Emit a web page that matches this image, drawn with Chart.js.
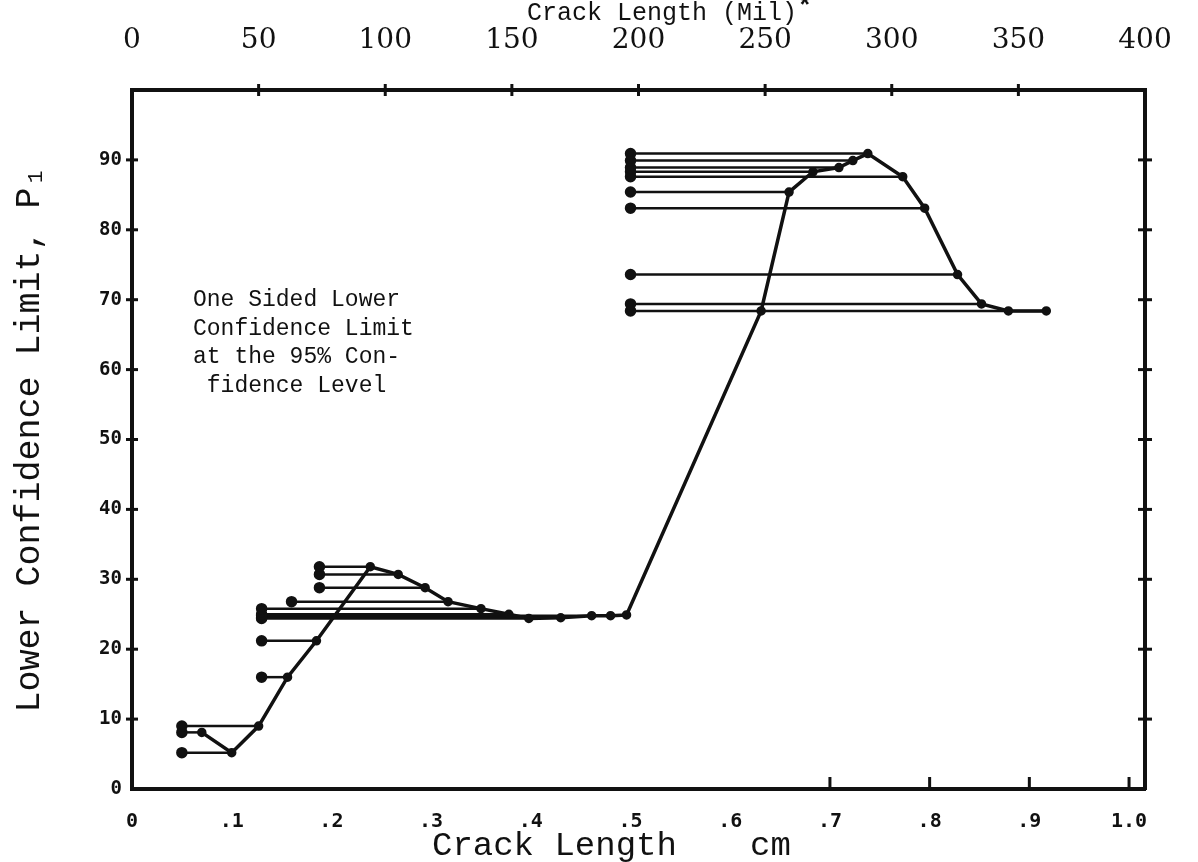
<!DOCTYPE html>
<html>
<head>
<meta charset="utf-8">
<script src="https://cdn.jsdelivr.net/npm/chart.js@4"></script>
<style>
  body { margin: 0; background: #fff; }
</style>
</head>
<body>
<canvas id="grafica" width="1198" height="862"></canvas>
<script>
// Curva principal: longitud de grieta (cm) contra limite inferior P1 (%)
const grietaCm = [0.07, 0.10, 0.127, 0.156, 0.185, 0.239, 0.267, 0.294, 0.317, 0.350, 0.378, 0.398, 0.430, 0.461, 0.480, 0.496,
                  0.631, 0.659, 0.683, 0.709, 0.723, 0.738, 0.773, 0.795, 0.828, 0.852, 0.879, 0.917];
const limiteP1 = [8.1, 5.2, 9.0, 16.0, 21.2, 31.8, 30.7, 28.8, 26.8, 25.8, 25.0, 24.4, 24.5, 24.8, 24.8, 24.9,
                  68.4, 85.4, 88.3, 88.9, 89.9, 90.9, 87.6, 83.1, 73.6, 69.4, 68.4, 68.4];

// Tramos horizontales: desde inicio (cm) hasta fin (cm) al nivel P1
const tramoInicio = [0.05, 0.05, 0.05, 0.13, 0.13, 0.13, 0.13, 0.13, 0.13, 0.13, 0.16, 0.188, 0.188, 0.188,
                     0.5, 0.5, 0.5, 0.5, 0.5, 0.5, 0.5, 0.5, 0.5, 0.5];
const tramoFin    = [0.127, 0.07, 0.10, 0.156, 0.185, 0.350, 0.378, 0.398, 0.430, 0.461, 0.317, 0.294, 0.267, 0.239,
                     0.738, 0.723, 0.709, 0.683, 0.773, 0.659, 0.795, 0.828, 0.852, 0.917];
const tramoNivel  = [9.0, 8.1, 5.2, 16.0, 21.2, 25.8, 25.0, 24.4, 24.5, 24.8, 26.8, 28.8, 30.7, 31.8,
                     90.9, 89.9, 88.9, 88.3, 87.6, 85.4, 83.1, 73.6, 69.4, 68.4];

// Escalas
const maxMil = 400;
const milPorCm = 393.7;
const maxCm = maxMil / milPorCm;
const pasoCm = 0.1;
const pasoMil = 50;
const pasoP1 = 10;
const maxP1 = 100;

const textoNota = ['One Sided Lower', 'Confidence Limit', 'at the 95% Con-', ' fidence Level'];

const negro = '#111';
const fuenteMaquina = "'Liberation Mono', 'DejaVu Sans Mono', monospace";

let datasets = [];

datasets.push({
    label: 'curva',
    data: grietaCm.map((x, i) => ({ x: x, y: limiteP1[i] })),
    borderColor: negro,
    backgroundColor: negro,
    borderWidth: 3.5,
    pointRadius: 3,
    pointHoverRadius: 3,
    tension: 0
});

for (let i = 0; i < tramoInicio.length; i++) {
    datasets.push({
        label: 'tramo' + i,
        data: [{ x: tramoInicio[i], y: tramoNivel[i] }, { x: tramoFin[i], y: tramoNivel[i] }],
        borderColor: negro,
        backgroundColor: negro,
        borderWidth: 2.5,
        pointRadius: [4.5, 0],
        pointHoverRadius: [4.5, 0],
        tension: 0
    });
}

// marcas de los ejes, nota y titulos de longitud
const marcasEje = {
    id: 'marcasEje',
    afterDraw(chart) {
        const { ctx, chartArea: a, scales } = chart;
        ctx.save();
        ctx.strokeStyle = negro;
        ctx.lineWidth = 3;
        const linea = (x1, y1, x2, y2) => { ctx.beginPath(); ctx.moveTo(x1, y1); ctx.lineTo(x2, y2); ctx.stroke(); };

        scales.y.ticks.forEach(t => {
            if (t.value > 0 && t.value < maxP1) {
                const py = scales.y.getPixelForValue(t.value);
                linea(a.left - 6, py, a.left + 6, py);
                linea(a.right - 7, py, a.right + 7, py);
            }
        });
        scales.x2.ticks.forEach(t => {
            if (t.value > 0 && t.value < maxMil) {
                const px = scales.x2.getPixelForValue(t.value);
                linea(px, a.top - 6, px, a.top + 6);
            }
        });
        scales.x.ticks.forEach(t => {
            if (t.value > 0.65) {
                const px = scales.x.getPixelForValue(t.value);
                linea(px, a.bottom, px, a.bottom - 12);
            }
        });

        ctx.fillStyle = negro;
        ctx.textBaseline = 'middle';
        ctx.textAlign = 'left';
        ctx.font = '23px ' + fuenteMaquina;
        textoNota.forEach((t, i) => ctx.fillText(t, 193, 300 + i * 28.5));

        ctx.font = '25px ' + fuenteMaquina;
        const titulo = 'Crack Length (Mil)';
        ctx.fillText(titulo, 527, 13);
        const ancho = ctx.measureText(titulo).width;
        ctx.font = 'bold 26px ' + fuenteMaquina;
        ctx.fillText('*', 527 + ancho, 7);

        ctx.font = '34px ' + fuenteMaquina;
        ctx.fillText('Crack Length', 432, 846);
        ctx.fillText('cm', 750, 846);
        ctx.restore();
    }
};

const grafica = new Chart(document.getElementById('grafica'), {
    type: 'line',
    data: { datasets: datasets },
    options: {
        responsive: false,
        animation: false,
        layout: { padding: 0 },
        plugins: { legend: { display: false }, tooltip: { enabled: false } },
        scales: {
            x: {
                type: 'linear',
                position: 'bottom',
                min: 0,
                max: maxCm,
                grid: { display: false, drawTicks: true, tickLength: 17 },
                border: { display: true, color: negro, width: 4 },
                ticks: {
                    stepSize: pasoCm,
                    includeBounds: false,
                    autoSkip: false,
                    maxRotation: 0,
                    padding: 4,
                    color: negro,
                    font: { family: "'DejaVu Sans Mono', monospace", size: 20, weight: 'bold' },
                    callback: v => {
                        if (v === 0) return '0';
                        if (Math.abs(v - 1) < 0.01) return '1.0';
                        return '.' + Math.round(v * 10);
                    }
                },
                afterFit: s => { s.height = 73; }
            },
            x2: {
                type: 'linear',
                position: 'top',
                min: 0,
                max: maxMil,
                grid: { display: false, drawTicks: true, tickLength: 27 },
                border: { display: true, color: negro, width: 4 },
                ticks: {
                    stepSize: pasoMil,
                    autoSkip: false,
                    maxRotation: 0,
                    padding: 5,
                    color: negro,
                    font: { family: "'DejaVu Serif', serif", size: 28 }
                },
                afterFit: s => { s.height = 90; }
            },
            y: {
                type: 'linear',
                position: 'left',
                min: 0,
                max: maxP1,
                grid: { display: false, drawTicks: false },
                border: { display: true, color: negro, width: 4 },
                ticks: {
                    stepSize: pasoP1,
                    padding: 10,
                    color: negro,
                    font: { family: "'DejaVu Sans Mono', monospace", size: 19, weight: 'bold' },
                    callback: v => (v === maxP1 ? '' : v)
                },
                title: {
                    display: true,
                    text: 'Lower Confidence Limit, P₁',
                    color: negro,
                    font: { family: fuenteMaquina, size: 35 },
                    padding: { top: 9, bottom: 0 }
                },
                afterFit: s => { s.width = 132; }
            },
            y2: {
                type: 'linear',
                position: 'right',
                min: 0,
                max: maxP1,
                grid: { display: false, drawTicks: false },
                border: { display: true, color: negro, width: 4 },
                ticks: { display: false, stepSize: pasoP1 },
                afterFit: s => { s.width = 53; }
            }
        }
    },
    plugins: [marcasEje]
});
</script>
</body>
</html>
